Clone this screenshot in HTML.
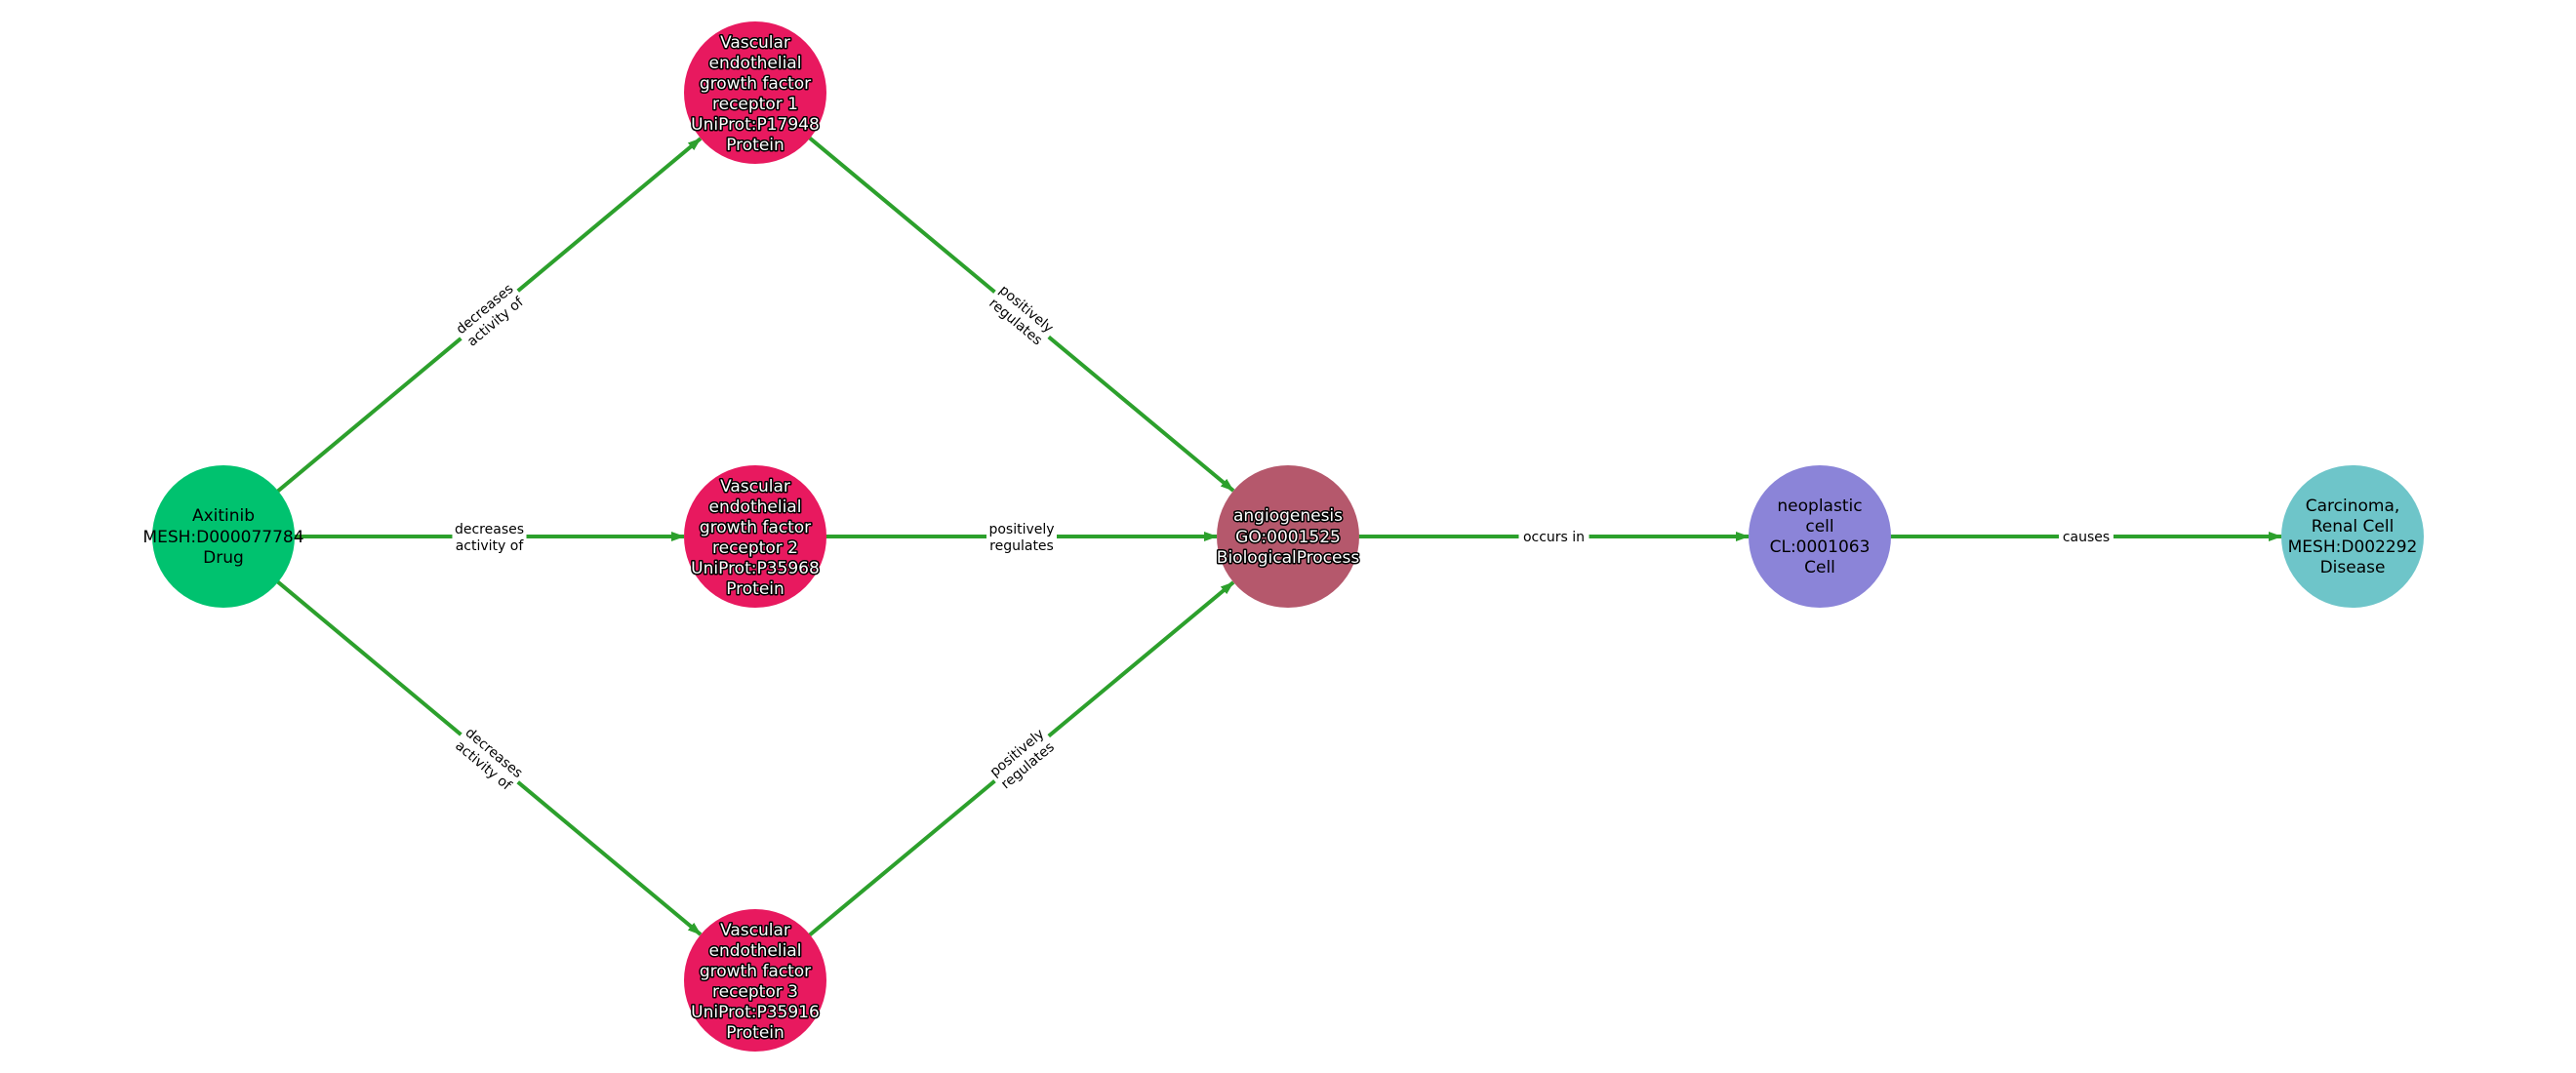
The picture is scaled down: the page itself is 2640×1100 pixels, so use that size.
<!DOCTYPE html>
<html><head><meta charset="utf-8"><style>
html,body{margin:0;padding:0;background:#fff;}
svg{display:block;}
text{font-family:"DejaVu Sans","Liberation Sans",sans-serif;}
.n{font-size:17px;text-anchor:middle;}
.w{fill:#fff;stroke:#000;stroke-width:3px;paint-order:stroke;stroke-linejoin:round;}
.e{font-size:14px;text-anchor:middle;fill:#000;}
</style></head><body>
<svg width="2640" height="1100" viewBox="0 0 2640 1100" xmlns="http://www.w3.org/2000/svg">
<defs>
<marker id="a" markerWidth="14" markerHeight="12" refX="13" refY="6" orient="auto" markerUnits="userSpaceOnUse">
<path d="M0,1 L14,6 L0,11 Z" fill="#2ca02c"/>
</marker>
</defs>
<g stroke="#2ca02c" stroke-width="4" fill="none" marker-end="url(#a)">
<line x1="229" y1="550" x2="718" y2="142"/>
<line x1="229" y1="550" x2="701" y2="550"/>
<line x1="229" y1="550" x2="718" y2="958"/>
<line x1="774" y1="95" x2="1264" y2="503"/>
<line x1="774" y1="550" x2="1247" y2="550"/>
<line x1="774" y1="1005" x2="1264" y2="597"/>
<line x1="1320" y1="550" x2="1792" y2="550"/>
<line x1="1865" y1="550" x2="2338" y2="550"/>
</g>
<!-- edge labels -->
<g transform="translate(501.5,322.5) rotate(-39.9)"><rect x="-38" y="-18" width="76" height="36" fill="#fff"/><text class="e" y="-3">decreases</text><text class="e" y="14">activity of</text></g>
<g transform="translate(501.5,550)"><rect x="-38" y="-18" width="76" height="36" fill="#fff"/><text class="e" y="-3">decreases</text><text class="e" y="14">activity of</text></g>
<g transform="translate(501.5,777.5) rotate(39.9)"><rect x="-38" y="-18" width="76" height="36" fill="#fff"/><text class="e" y="-3">decreases</text><text class="e" y="14">activity of</text></g>
<g transform="translate(1047,322.5) rotate(39.9)"><rect x="-36" y="-18" width="72" height="36" fill="#fff"/><text class="e" y="-3">positively</text><text class="e" y="14">regulates</text></g>
<g transform="translate(1047,550)"><rect x="-36" y="-18" width="72" height="36" fill="#fff"/><text class="e" y="-3">positively</text><text class="e" y="14">regulates</text></g>
<g transform="translate(1047,777.5) rotate(-39.9)"><rect x="-36" y="-18" width="72" height="36" fill="#fff"/><text class="e" y="-3">positively</text><text class="e" y="14">regulates</text></g>
<g transform="translate(1592.5,550)"><rect x="-36" y="-10" width="72" height="20" fill="#fff"/><text class="e" y="5">occurs in</text></g>
<g transform="translate(2138,550)"><rect x="-28" y="-10" width="56" height="20" fill="#fff"/><text class="e" y="5">causes</text></g>
<!-- nodes -->
<circle cx="229" cy="550" r="73" fill="#00c26f"/>
<text class="n" x="229" y="534">Axitinib</text>
<text class="n" x="229" y="556">MESH:D000077784</text>
<text class="n" x="229" y="577">Drug</text>

<circle cx="774" cy="95" r="73" fill="#e8195f"/>
<g class="n w"><text x="774" y="49">Vascular</text><text x="774" y="70">endothelial</text><text x="774" y="91">growth factor</text><text x="774" y="112">receptor 1</text><text x="774" y="133">UniProt:P17948</text><text x="774" y="154">Protein</text></g>

<circle cx="774" cy="550" r="73" fill="#e8195f"/>
<g class="n w"><text x="774" y="504">Vascular</text><text x="774" y="525">endothelial</text><text x="774" y="546">growth factor</text><text x="774" y="567">receptor 2</text><text x="774" y="588">UniProt:P35968</text><text x="774" y="609">Protein</text></g>

<circle cx="774" cy="1005" r="73" fill="#e8195f"/>
<g class="n w"><text x="774" y="959">Vascular</text><text x="774" y="980">endothelial</text><text x="774" y="1001">growth factor</text><text x="774" y="1022">receptor 3</text><text x="774" y="1043">UniProt:P35916</text><text x="774" y="1064">Protein</text></g>

<circle cx="1320" cy="550" r="73" fill="#b5586c"/>
<g class="n w"><text x="1320" y="534">angiogenesis</text><text x="1320" y="556">GO:0001525</text><text x="1320" y="577">BiologicalProcess</text></g>

<circle cx="1865" cy="550" r="73" fill="#8b84d8"/>
<text class="n" x="1865" y="524">neoplastic</text>
<text class="n" x="1865" y="545">cell</text>
<text class="n" x="1865" y="566">CL:0001063</text>
<text class="n" x="1865" y="587">Cell</text>

<circle cx="2411" cy="550" r="73" fill="#6ec5c9"/>
<text class="n" x="2411" y="524">Carcinoma,</text>
<text class="n" x="2411" y="545">Renal Cell</text>
<text class="n" x="2411" y="566">MESH:D002292</text>
<text class="n" x="2411" y="587">Disease</text>
</svg>
</body></html>
